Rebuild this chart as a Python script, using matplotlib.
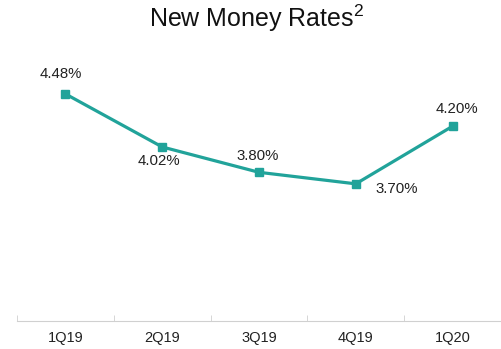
import matplotlib
matplotlib.use("Agg")
import matplotlib.pyplot as plt

categories = ["1Q19", "2Q19", "3Q19", "4Q19", "1Q20"]
values = [4.48, 4.02, 3.80, 3.70, 4.20]
labels = ["4.48%", "4.02%", "3.80%", "3.70%", "4.20%"]

plt.rcParams['font.family'] = ['Liberation Sans', 'DejaVu Sans']
plt.rcParams['mathtext.fontset'] = 'custom'
plt.rcParams['mathtext.rm'] = 'Liberation Sans'
color = '#21A39A'

fig = plt.figure(figsize=(5.01, 3.49), dpi=100)
ax = fig.add_axes([17/501, 28/349, 1 - 17/501, (321 - 34)/349])
x = list(range(len(categories)))
ax.plot(x, values, color=color, lw=2.3, marker='s', ms=6, zorder=3)
ax.set_xlim(-0.5, len(categories) - 0.5)
ax.set_ylim(2.51, 5.0)

offsets = [(-3, 9, 'center', 'bottom'), (-2, -5, 'center', 'top'), (-1, 6.5, 'center', 'bottom'),
           (14.5, 1, 'left', 'top'), (3, 7, 'center', 'bottom')]
for xi, v, lab, (dx, dy, ha, va) in zip(x, values, labels, offsets):
    ax.annotate(lab, (xi, v), xytext=(dx, dy), textcoords='offset points', ha=ha, va=va,
                fontsize=10.8, color='#222222')

for s in ['top', 'right', 'left']:
    ax.spines[s].set_visible(False)
ax.spines['bottom'].set_color('#D0D0D0')
ax.set_yticks([])
ax.set_xticks(x)
ax.set_xticklabels(categories, fontsize=10.5, color='#222222')
ax.tick_params(axis='x', length=0, pad=7)
ax.set_xticks([i - 0.5 for i in range(len(categories) + 1)], minor=True)
ax.tick_params(axis='x', which='minor', length=4, color='#D0D0D0', direction='in')

fig.text(257/501, 1 - 18/349, "New Money Rates$^{\\mathrm{2}}$", ha='center', va='center',
         fontsize=18, color='#111111')

fig.savefig("out.png", dpi=100)
